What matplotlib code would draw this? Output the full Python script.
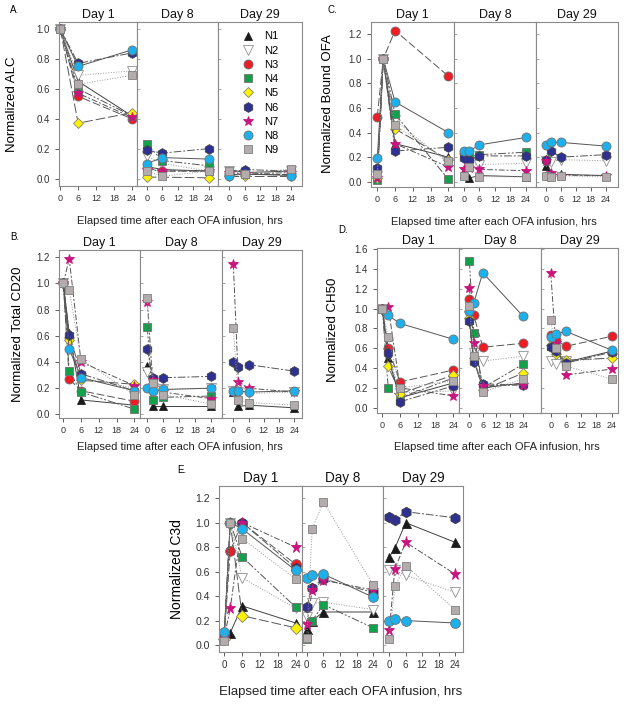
import numpy as np
import matplotlib
matplotlib.use("Agg")
import matplotlib.pyplot as plt

plt.rcParams['font.family'] = ['Liberation Sans', 'DejaVu Sans']

names = ["N1", "N2", "N3", "N4", "N5", "N6", "N7", "N8", "N9"]
nan = np.nan

t3 = [0, 6, 24]
t4 = [0, 2, 6, 24]
days = ["Day 1", "Day 8", "Day 29"]

# A. ALC
alc_d1 = [[1.0, 0.65, 0.42], [1.0, 0.69, 0.72], [1.0, 0.55, 0.40], [1.0, 0.60, 0.42],
          [1.0, 0.37, 0.44], [1.0, 0.77, 0.84], [1.0, 0.57, 0.41], [1.0, 0.75, 0.86],
          [1.0, 0.63, 0.69]]
alc_d8 = [[0.08, 0.06, 0.05], [0.15, 0.10, 0.05], [0.07, 0.05, 0.05], [0.23, 0.12, 0.085],
          [0.01, nan, 0.005], [0.19, 0.17, 0.20], [0.06, 0.05, 0.05], [0.10, 0.14, 0.13],
          [0.05, 0.015, 0.05]]
alc_d29 = [[0.06, 0.04, 0.05], [0.05, 0.03, 0.05], [0.03, 0.03, 0.03], [0.03, 0.03, 0.03],
           [0.02, 0.02, 0.02], [0.04, 0.06, 0.05], [0.04, 0.03, 0.04], [0.02, 0.03, 0.02],
           [0.05, 0.03, 0.065]]

# C. Bound OFA
ofa_d1 = [[0.04, 1.0, 0.31, 0.20], [0.05, 1.0, 0.50, 0.15], [0.53, 1.0, 1.23, 0.86],
          [0.01, 1.0, 0.55, 0.02], [0.03, 1.0, 0.43, 0.18], [0.11, 1.0, 0.25, 0.28],
          [0.03, 1.0, 0.31, 0.12], [0.19, 1.0, 0.65, 0.40], [0.06, 1.0, 0.46, 0.17]]
ofa_d8 = [[0.06, 0.03, 0.05, 0.04], [0.19, 0.15, 0.14, 0.15], [nan] * 4,
          [0.22, 0.20, 0.22, 0.24], [nan] * 4, [0.19, 0.18, 0.21, 0.21],
          [0.10, 0.11, 0.10, 0.09], [0.25, 0.25, 0.30, 0.36], [0.05, 0.12, 0.04, 0.04]]
ofa_d29 = [[0.13, 0.06, 0.06, 0.05], [0.17, 0.16, 0.18, 0.17], [nan] * 4, [nan] * 4,
           [nan] * 4, [0.18, 0.25, 0.20, 0.22], [0.17, 0.07, 0.05, 0.05],
           [0.30, 0.32, 0.32, 0.29], [0.05, 0.04, 0.05, 0.04]]

# B. Total CD20
cd20_d1 = [[1.0, 0.62, 0.11, 0.07], [1.0, 0.55, 0.28, 0.20], [1.0, 0.27, 0.18, 0.10],
           [1.0, 0.33, 0.17, 0.04], [1.0, 0.57, 0.26, 0.23], [1.0, 0.61, 0.31, 0.18],
           [1.0, 1.19, 0.40, 0.22], [1.0, 0.50, 0.28, 0.18], [1.0, 0.95, 0.42, 0.15]]
cd20_d8 = [[0.37, 0.06, 0.06, 0.06], [0.32, 0.20, 0.19, 0.20], [nan] * 4,
           [0.67, 0.11, 0.13, 0.14], [nan] * 4, [0.50, 0.28, 0.28, 0.29],
           [0.86, 0.26, 0.17, 0.12], [0.20, 0.18, 0.19, 0.20], [0.89, 0.24, 0.15, 0.08]]
cd20_d29 = [[0.17, 0.06, 0.07, 0.05], [0.18, 0.17, 0.16, 0.17], [nan] * 4, [nan] * 4,
            [nan] * 4, [0.40, 0.36, 0.38, 0.33], [1.15, 0.25, 0.20, 0.17],
            [0.18, 0.18, 0.17, 0.18], [0.66, 0.11, 0.09, 0.07]]

# D. CH50
ch50_d1 = [[1.0, 0.50, 0.10, 0.25], [1.0, 0.55, 0.15, 0.17], [1.0, 0.60, 0.26, 0.38],
           [1.0, 0.20, 0.10, 0.30], [1.0, 0.42, 0.14, 0.33], [1.0, 0.55, 0.06, 0.22],
           [1.0, 1.02, 0.20, 0.12], [1.0, 0.93, 0.85, 0.69], [1.0, 0.71, 0.20, 0.27]]
ch50_d8 = [[0.88, 0.48, 0.20, 0.25], [0.92, 0.55, 0.47, 0.52], [1.10, 0.93, 0.61, 0.65],
           [1.48, 0.75, 0.20, 0.44], [0.90, 0.50, 0.18, 0.35], [0.87, 0.46, 0.24, 0.23],
           [1.21, 0.65, 0.22, 0.23], [0.97, 1.06, 1.36, 0.92], [1.03, 0.52, 0.16, 0.29]]
ch50_d29 = [[0.62, 0.56, 0.46, 0.57], [0.47, 0.44, 0.47, 0.50], [0.73, 0.68, 0.62, 0.72],
            [nan] * 4, [0.63, 0.54, 0.48, 0.50], [0.61, 0.57, 0.45, 0.56],
            [1.36, 0.65, 0.33, 0.39], [0.71, 0.74, 0.77, 0.58], [0.88, 0.60, 0.42, 0.29]]

# E. C3d
c3d_d1 = [[0.10, 0.10, 0.32, 0.18], [0.05, 1.0, 0.55, 0.30], [0.08, 0.77, 1.0, 0.66],
          [0.07, 1.0, 0.72, 0.31], [0.05, 1.0, 0.24, 0.14], [0.09, 1.0, 1.0, 0.63],
          [0.06, 0.30, 1.0, 0.80], [0.11, 1.0, 0.95, 0.61], [0.03, 1.0, 0.87, 0.54]]
c3d_d8 = [[0.13, 0.20, 0.27, 0.27], [0.23, 0.34, 0.35, 0.29], [nan] * 4,
          [0.05, 0.20, 0.33, 0.14], [nan] * 4, [0.31, 0.47, 0.54, 0.43],
          [0.17, 0.45, 0.53, 0.45], [0.55, 0.57, 0.58, 0.39], [0.06, 0.95, 1.17, 0.49]]
c3d_d29 = [[0.72, 0.79, 1.0, 0.84], [0.61, 0.61, 0.57, 0.43], [nan] * 4, [nan] * 4,
           [nan] * 4, [1.05, 1.02, 1.09, 1.04], [0.12, 0.62, 0.84, 0.58],
           [0.20, 0.21, 0.20, 0.18], [0.05, 0.48, 0.65, 0.29]]

markers = ['^', 'v', 'o', 's', 'D', 'h', '*', 'o', 's']
faces = ['#1a1a1a', 'white', '#ee1c25', '#12a04a', '#fff200', '#2e3192', '#c8157e', '#1cb0ec', '#b3acac']
edges = ['#202020', '#909090', '#707070', '#707070', '#808080', '#404040', '#c8157e', '#707070', '#808080']
msizes = [6, 6.5, 6.5, 5.5, 5.5, 7, 7.5, 6.5, 5.5]
lstyles = ['-', ':', (0, (8, 3)), (0, (8, 2, 2, 2, 2, 2)), (0, (10, 3)),
           (0, (8, 2, 2, 2)), (0, (6, 2, 2, 2)), '-', ':']
lcolors = ['#404040', '#999999', '#555555', '#555555', '#555555', '#555555', '#555555', '#555555', '#999999']

W, H = 630, 704
fig = plt.figure(figsize=(6.3, 7.04), dpi=100)


def panel(top, bottom, xedges, p0, p24, times, data, ylim, yticks, fs=1.0, legend=False):
    # xedges: pixel edges of the three sub-axes; p0 / p24: pixel of x=0 and x=24 in each
    axes = []
    for i in range(3):
        l, r = xedges[i], xedges[i + 1]
        ax = fig.add_axes([l / W, 1 - bottom / H, (r - l) / W, (bottom - top) / H])
        sc = (p24[i] - p0[i]) / 24.0
        ax.set_xlim((l - p0[i]) / sc, 24 + (r - p24[i]) / sc)
        for k in range(9):
            y = np.array(data[i][k], dtype=float)
            x = np.array(times, dtype=float)
            m = np.isfinite(y)
            if not m.any():
                continue
            ax.plot(x[m], y[m], linestyle=lstyles[k], color=lcolors[k], lw=0.7,
                    marker=markers[k], ms=msizes[k] * fs, mfc=faces[k], mec=edges[k],
                    mew=0.6, label=names[k], zorder=3 + k, clip_on=False)
        ax.set_ylim(*ylim)
        ax.set_xticks([0, 6, 12, 18, 24])
        ax.set_yticks(yticks)
        ax.tick_params(axis='x', direction='out', length=3, width=0.6, colors='#444444',
                       labelsize=6.5 * fs, labelcolor='#333333', pad=3)
        if i == 0:
            ax.set_yticklabels(['%.1f' % v for v in yticks])
            ax.tick_params(axis='y', direction='out', length=3, width=0.6, colors='#444444',
                           labelsize=7 * fs, labelcolor='#333333')
        else:
            ax.tick_params(axis='y', direction='in', length=2, width=0.6, colors='#999999',
                           labelleft=False)
        for s in ax.spines.values():
            s.set_color('#8a8a8a')
            s.set_linewidth(0.8)
            s.set_zorder(20)
        ax.set_title(days[i], fontsize=9 * fs, pad=3, color='#111111')
        axes.append(ax)
    if legend:
        axes[2].legend(loc='upper left', bbox_to_anchor=(0.18, 0.99), frameon=False,
                       fontsize=8, handlelength=1.2, handletextpad=0.9, labelspacing=0.38,
                       numpoints=1, borderpad=0.2)
        for h in axes[2].get_legend().get_lines():
            h.set_linestyle('None')
    return axes


yt6 = [0.0, 0.2, 0.4, 0.6, 0.8, 1.0]
yt7 = [0.0, 0.2, 0.4, 0.6, 0.8, 1.0, 1.2]
yt9 = [0.0, 0.2, 0.4, 0.6, 0.8, 1.0, 1.2, 1.4, 1.6]

# A
panel(22, 186, [59, 137, 218, 302], [60.3, 146.7, 229.3], [131.7, 209, 291],
      t3, [alc_d1, alc_d8, alc_d29], (-0.05, 1.047), yt6, legend=True)
# C
panel(22, 187, [371, 454, 536, 618], [377.3, 464, 546], [448.3, 525.7, 605.7],
      t4, [ofa_d1, ofa_d8, ofa_d29], (-0.043, 1.3), yt7)
# B
panel(250, 418, [59, 140, 222, 302], [63.3, 147.3, 233.3], [134.3, 211, 294.3],
      t4, [cd20_d1, cd20_d8, cd20_d29], (-0.028, 1.256), yt7)
# D
panel(248, 413, [377, 459, 541, 618], [382.3, 469.3, 550.7], [453.3, 523.3, 611.7],
      t4, [ch50_d1, ch50_d8, ch50_d29], (-0.053, 1.61), yt9)
# E
panel(486, 652, [219, 302, 383, 463], [224.3, 306.7, 389.3], [295.7, 373.3, 455],
      t4, [c3d_d1, c3d_d8, c3d_d29], (-0.057, 1.30), yt7, fs=1.08)

xlab = "Elapsed time after each OFA infusion, hrs"
fig.text(180 / W, 1 - 221 / H, xlab, ha='center', va='center', fontsize=8, color='#222222')
fig.text(494 / W, 1 - 222 / H, xlab, ha='center', va='center', fontsize=8, color='#222222')
fig.text(180 / W, 1 - 447 / H, xlab, ha='center', va='center', fontsize=8, color='#222222')
fig.text(497 / W, 1 - 447 / H, xlab, ha='center', va='center', fontsize=8, color='#222222')
fig.text(341 / W, 1 - 692 / H, xlab, ha='center', va='center', fontsize=9.5, color='#222222')

fig.text(12 / W, 1 - 104 / H, "Normalized ALC", rotation=90, ha='center', va='center', fontsize=9.5)
fig.text(328 / W, 1 - 104 / H, "Normalized Bound OFA", rotation=90, ha='center', va='center', fontsize=9.5)
fig.text(18 / W, 1 - 334 / H, "Normalized Total CD20", rotation=90, ha='center', va='center', fontsize=9.5)
fig.text(333 / W, 1 - 330 / H, "Normalized CH50", rotation=90, ha='center', va='center', fontsize=9.5)
fig.text(177 / W, 1 - 569 / H, "Normalized C3d", rotation=90, ha='center', va='center', fontsize=10)

for lab, x, y in [("A.", 15, 10), ("C.", 332, 10), ("B.", 15, 237), ("D.", 343, 230), ("E.", 182, 470)]:
    fig.text(x / W, 1 - y / H, lab, ha='center', va='center', fontsize=7)

fig.savefig("out.png", dpi=100)
